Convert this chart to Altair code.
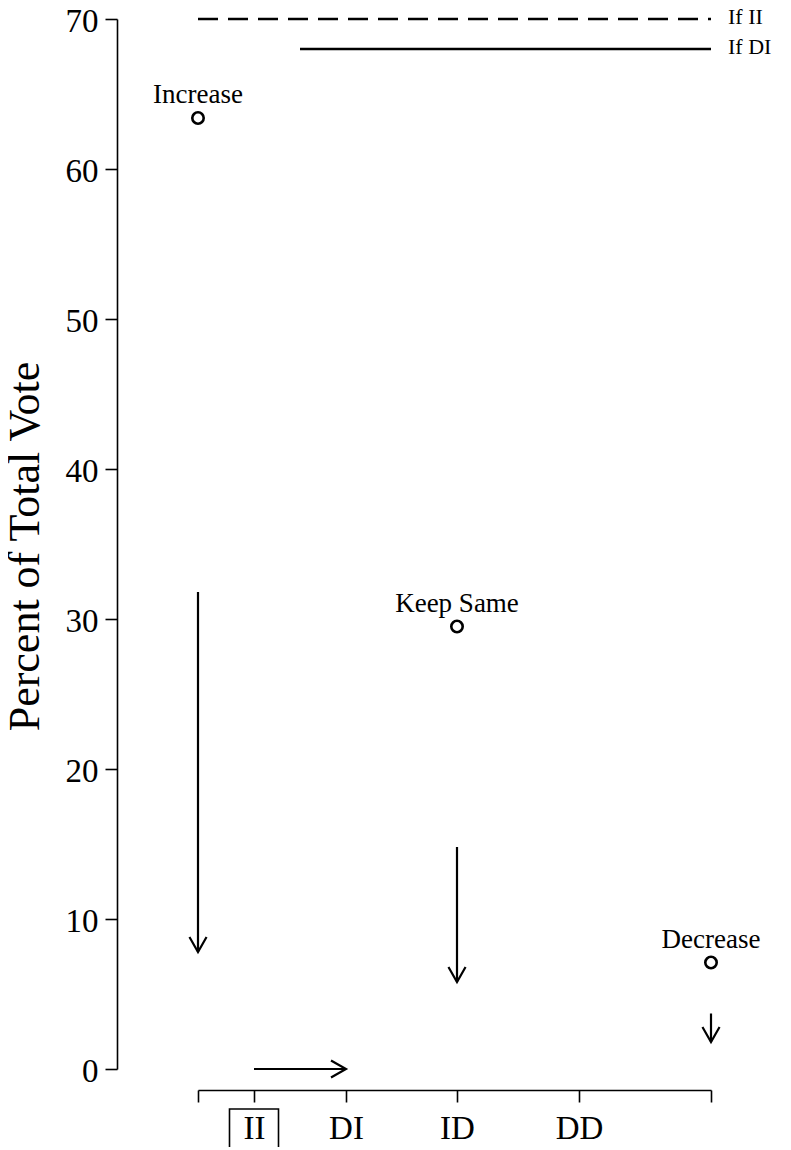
import altair as alt
import pandas as pd

# ---- data ----
tick_pos = [0, 56, 148, 259, 381, 513]
tick_labels = ["", "II", "DI", "ID", "DD", ""]

resp_labels = ["Increase", "Keep Same", "Decrease"]
resp_x = [0, 259, 513]
resp_pct = [63.4, 29.5, 7.1]

varrow_x = [0, 259, 513]
varrow_from = [31.8, 14.8, 3.7]
varrow_to = [7.8, 5.8, 1.8]

harrow_y = [0]
harrow_from = [56]
harrow_to = [148]

ref_labels = ["If II", "If DI"]
ref_y = [70, 68]
ref_start = [0, 102]
ref_end = [513, 513]

boxed_label = ["II"]
boxed_x = [56]

FONT = "Liberation Serif"

pts = pd.DataFrame({"label": resp_labels, "x": resp_x, "y": resp_pct})
varr = pd.DataFrame({"x": varrow_x, "y1": varrow_from, "y2": varrow_to})
harr = pd.DataFrame({"y": harrow_y, "x1": harrow_from, "x2": harrow_to})
refs = pd.DataFrame({"label": ref_labels, "y": ref_y, "x1": ref_start, "x2": ref_end})
box = pd.DataFrame({"label": boxed_label, "x": boxed_x})

lab_expr = " : ".join(
    [f"datum.value == {p} ? '{l}'" for p, l in zip(tick_pos, tick_labels)]
) + " : ''"

xs = alt.Scale(domain=[min(tick_pos), max(tick_pos)], nice=False, zero=False)
ys = alt.Scale(domain=[0, 70], nice=False, zero=True)

xaxis = alt.Axis(
    values=tick_pos, labelExpr=lab_expr, offset=21, tickSize=12,
    labelFontSize=33, labelPadding=10, grid=False, domainColor="black",
    tickColor="black", domainWidth=1.6, tickWidth=1.6, labelColor="black",
    labelFont=FONT, title=None,
)
yaxis = alt.Axis(
    values=list(range(0, 71, 10)), offset=81, tickSize=12, labelFontSize=33,
    labelPadding=7, labelOffset=2, grid=False, domainColor="black",
    tickColor="black", domainWidth=1.6, tickWidth=1.6, labelColor="black",
    labelFont=FONT,
    title="Percent of Total Vote", titleFont=FONT, titleFontSize=44,
    titleFontWeight="normal", titleColor="black", titleX=-92, titleY=527,
    titleAngle=-90, titleAlign="center", titleBaseline="middle",
)

def X(f):
    return alt.X(f, type="quantitative", scale=xs, axis=xaxis)

def Y(f):
    return alt.Y(f, type="quantitative", scale=ys, axis=yaxis)

base_pts = alt.Chart(pts)
points = base_pts.mark_point(
    shape="circle", filled=False, size=130, strokeWidth=2.6, color="black",
    opacity=1,
).encode(x=X("x"), y=Y("y"))
pt_text = base_pts.mark_text(
    font=FONT, fontSize=27, dy=-23, baseline="middle", align="center", color="black"
).encode(x=X("x"), y=Y("y"), text="label:N")

varr_shaft = alt.Chart(varr).mark_rule(strokeWidth=2.2, color="black").encode(
    x=X("x"), y=Y("y1"), y2="y2:Q"
)
varr_head = alt.Chart(varr).mark_point(
    shape="M-0.57,-1L0,0L0.57,-1", filled=False, size=900, strokeWidth=2.2,
    color="black", opacity=1,
).encode(x=X("x"), y=Y("y2"))

harr_shaft = alt.Chart(harr).mark_rule(strokeWidth=2.2, color="black").encode(
    x=X("x1"), x2="x2:Q", y=Y("y")
)
harr_head = alt.Chart(harr).mark_point(
    shape="M-1,-0.57L0,0L-1,0.57", filled=False, size=900, strokeWidth=2.2,
    color="black", opacity=1,
).encode(x=X("x2"), y=Y("y"))

ref_lines = alt.Chart(refs).mark_rule(strokeWidth=2.5, color="black").encode(
    x=X("x1"), x2="x2:Q", y=Y("y"),
    strokeDash=alt.StrokeDash(
        "label:N",
        scale=alt.Scale(domain=ref_labels, range=[[20, 10], [1, 0]]),
        legend=None,
    ),
)
ref_text = alt.Chart(refs).mark_text(
    font=FONT, fontSize=22, dx=17, dy=5, align="left", baseline="alphabetic",
    color="black",
).encode(x=X("x2"), y=Y("y"), text="label:N")

box_mark = alt.Chart(box).mark_point(
    shape="M-1,-0.94H1V0.94H-1Z", filled=False, size=2401, strokeWidth=1.6,
    color="black", opacity=1,
).encode(x=X("x"), y=alt.value(1113))

chart = alt.layer(
    ref_lines, ref_text, varr_shaft, varr_head, harr_shaft, harr_head,
    points, pt_text, box_mark,
).properties(
    width=513, height=1050,
    autosize=alt.AutoSizeParams(type="none"),
    padding={"left": 190, "top": 11, "right": 72, "bottom": 78},
).configure(
    font=FONT,
    view=alt.ViewConfig(stroke=None),
    text=alt.MarkConfig(font=FONT),
)

chart.save("out.html", embed_options={"renderer": "svg", "actions": False})
